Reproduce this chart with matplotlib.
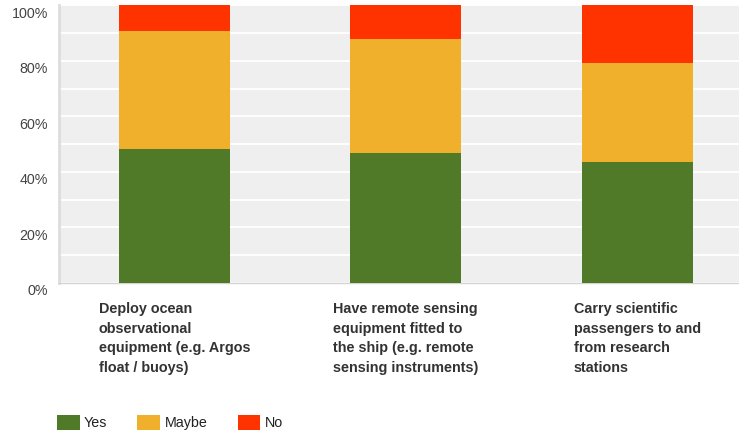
import matplotlib.pyplot as plt
import matplotlib.transforms as mtransforms
import numpy as np
from matplotlib.patches import Patch
from matplotlib.ticker import MultipleLocator, PercentFormatter

plt.rcParams['font.family'] = ['Liberation Sans', 'DejaVu Sans']

categories = ['Deploy ocean\nobservational\nequipment (e.g. Argos\nfloat / buoys)',
              'Have remote sensing\nequipment fitted to\nthe ship (e.g. remote\nsensing instruments)',
              'Carry scientific\npassengers to and\nfrom research\nstations']
yes = np.array([48.2, 46.7, 43.7])
maybe = np.array([42.7, 41.2, 35.7])
no = np.array([9.1, 12.1, 20.6])

series = ['Yes', 'Maybe', 'No']
colors = ['#507a28', '#f0b02c', '#ff3300']

fig = plt.figure(figsize=(7.39, 4.36), dpi=100)
ax = fig.add_axes([0.080, 0.3516, 0.920, 0.6358])
ax.set_facecolor('#efefef')

x = np.arange(len(categories))
w = 0.48
ax.bar(x, yes, w, color=colors[0], zorder=3)
ax.bar(x, maybe, w, bottom=yes, color=colors[1], zorder=3)
ax.bar(x, no, w, bottom=yes + maybe, color=colors[2], zorder=3)

ax.set_xlim(-0.5, 2.44)
ax.set_ylim(0, 100)
ax.yaxis.set_major_locator(MultipleLocator(20))
ax.yaxis.set_minor_locator(MultipleLocator(10))
ax.yaxis.set_major_formatter(PercentFormatter(decimals=0))
ax.grid(axis='y', which='both', color='white', linewidth=1.3, zorder=1)

for s in ['top', 'right']:
    ax.spines[s].set_visible(False)
ax.spines['left'].set_color('#dddddd')
ax.spines['left'].set_linewidth(2)
ax.spines['bottom'].set_color('#d4d4d4')
ax.spines['bottom'].set_linewidth(1)

ax.tick_params(axis='y', which='both', length=0, pad=8, labelsize=10.3, labelcolor='#444444')
ax.tick_params(axis='x', length=0, pad=14)
ax.set_xticks(x)
ax.set_xticklabels(categories, fontsize=10.4, fontweight='bold', color='#333333',
                   multialignment='left', linespacing=1.5)

# percent labels sit a little below their gridlines
shift = mtransforms.ScaledTranslation(0, -7 / 100, fig.dpi_scale_trans)
for lab in ax.get_yticklabels():
    lab.set_transform(lab.get_transform() + shift)

handles = [Patch(facecolor=c, label=s) for c, s in zip(colors, series)]
fig.legend(handles=handles, loc='lower left', bbox_to_anchor=(0.0595, -0.016), ncol=3,
           frameon=False, fontsize=10.3, handlelength=1.6, handleheight=1.2,
           handletextpad=0.3, columnspacing=2.1, labelcolor='#222222')

fig.savefig('out.png', dpi=100)
